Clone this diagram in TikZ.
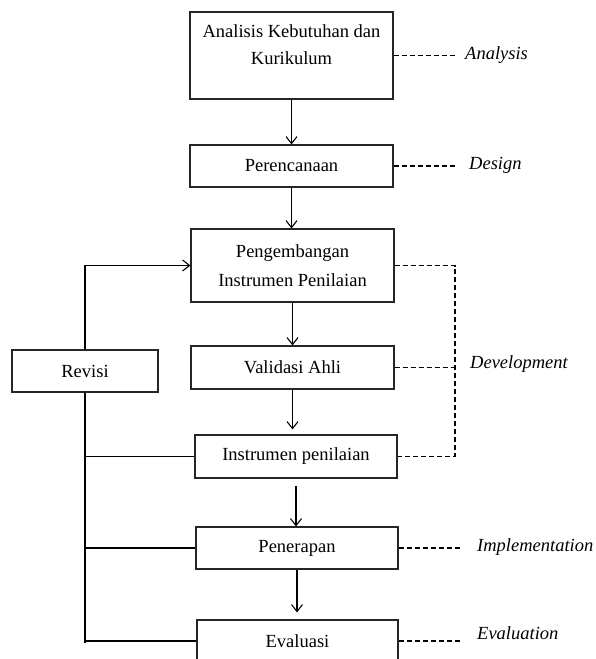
\documentclass[tikz,border=0pt]{standalone}
\usepackage{fontspec}
\setmainfont{Liberation Serif}
\usetikzlibrary{arrows.meta,calc}
\begin{document}
\begin{tikzpicture}[x=1pt,y=-1pt,
  box/.style={draw=black!85,line width=1.1pt,inner sep=0pt,font=\fontsize{18.5}{29}\selectfont,align=center},
  txt/.style={inner sep=0pt,font=\fontsize{18.5}{27}\selectfont,align=center},
  lbl/.style={anchor=west,inner sep=0pt,font=\fontsize{18.5}{22}\selectfont\itshape},
  arr/.style={-{Straight Barb[length=7pt,width=11pt]},line width=1.1pt},
  conn/.style={line width=1.1pt},
  dsh/.style={line width=1.1pt,dash pattern=on 5pt off 3pt}]
\clip (0,0) rectangle (595,659);
\fill[white] (0,0) rectangle (595,659);
% boxes
\node[box,minimum width=203,minimum height=87] (ana) at (291.5,55.5) {};
\node[txt] (anaT) at (291.5,44.5) {Analisis Kebutuhan dan\\Kurikulum};
\node[box,minimum width=203,minimum height=42] (per) at (291.5,166) {Perencanaan};
\node[box,minimum width=203,minimum height=73] (dev) at (292.5,265.5) {Pengembangan\\Instrumen Penilaian};
\node[box,minimum width=146,minimum height=42] (rev) at (85,371) {Revisi};
\node[box,minimum width=203,minimum height=43] (val) at (292.5,367.5) {Validasi Ahli};
\node[box,minimum width=202,minimum height=43] (ins) at (296,456.5) {Instrumen penilaian};
\node[box,minimum width=202,minimum height=42] (pen) at (297,548) {Penerapan};
\node[box,minimum width=201,minimum height=42] (eva) at (297.5,641) {Evaluasi};
% phase labels
\node[lbl] (lA) at (465,55) {Analysis};
\node[lbl] (lD) at (469,165) {Design};
\node[lbl] (lDev) at (470,364) {Development};
\node[lbl] (lI) at (477,547) {Implementation};
\node[lbl] (lE) at (477,633) {Evaluation};
\coordinate (cA) at (455,55.5);
\coordinate (cD) at (457,166);
\coordinate (cDev) at (455,367.5);
\coordinate (cI) at (460,548);
\coordinate (cE) at (460,641);
% main flow
\draw[arr] (ana.south) -- (per.north);
\draw[arr] (per.south) -- (per.south |- dev.north);
\draw[arr] (dev.south) -- (val.north);
\draw[arr,shorten >=5pt] (val.south) -- (val.south |- ins.north);
\draw[arr,shorten <=7pt] (ins.south) -- (ins.south |- pen.north);
\draw[arr,shorten >=7pt] (pen.south) -- (pen.south |- eva.north);
% revision loop
\draw[arr] (rev.north) |- (dev.west);
\draw[conn] (rev.south) -- ([yshift=-2pt]rev.south |- eva.west);
\draw[conn] (rev.south |- ins.west) -- (ins.west);
\draw[conn] (rev.south |- pen.west) -- (pen.west);
\draw[conn] (rev.south |- eva.west) -- (eva.west);
% dashed phase links
\draw[dsh] (ana.east) -- (cA);
\draw[dsh] (per.east) -- (cD);
\draw[dsh] (dev.east) -| (cDev) |- (ins.east);
\draw[dsh] (val.east) -- (cDev);
\draw[dsh] (pen.east) -- (cI);
\draw[dsh] (eva.east) -- (cE);
\end{tikzpicture}
\end{document}
